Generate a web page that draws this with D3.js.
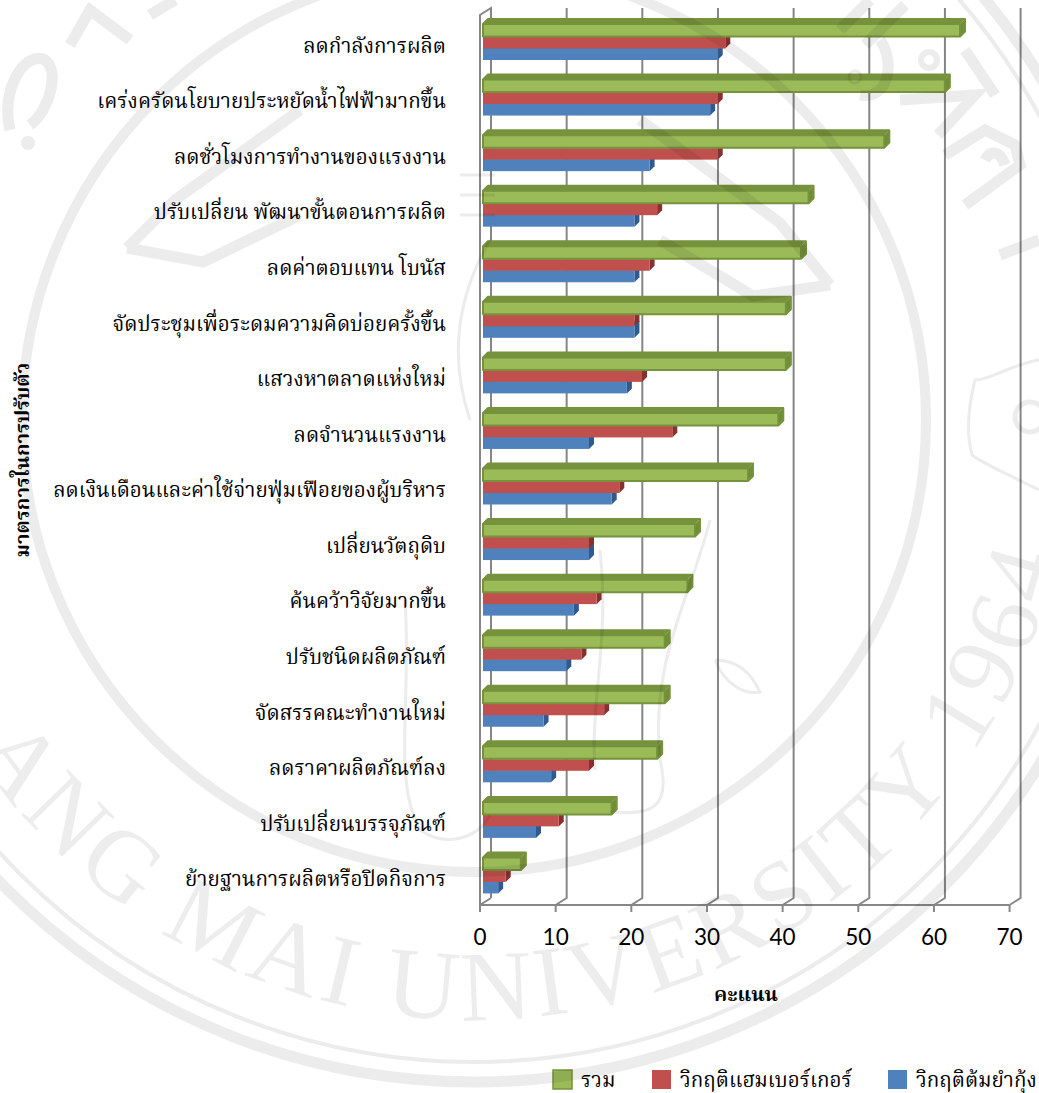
<!DOCTYPE html>
<html><head><meta charset="utf-8">
<script src="https://cdn.jsdelivr.net/npm/d3@7"></script>
<style>html,body{margin:0;padding:0;background:#fff}svg{display:block}</style></head>
<body><div id="c"></div>
<script>
const categories=["ลดกำลังการผลิต","เคร่งครัดนโยบายประหยัดน้ำไฟฟ้ามากขึ้น","ลดชั่วโมงการทำงานของแรงงาน","ปรับเปลี่ยน พัฒนาขั้นตอนการผลิต","ลดค่าตอบแทน โบนัส","จัดประชุมเพื่อระดมความคิดบ่อยครั้งขึ้น","แสวงหาตลาดแห่งใหม่","ลดจำนวนแรงงาน","ลดเงินเดือนและค่าใช้จ่ายฟุ่มเฟือยของผู้บริหาร","เปลี่ยนวัตถุดิบ","ค้นคว้าวิจัยมากขึ้น","ปรับชนิดผลิตภัณฑ์","จัดสรรคณะทำงานใหม่","ลดราคาผลิตภัณฑ์ลง","ปรับเปลี่ยนบรรจุภัณฑ์","ย้ายฐานการผลิตหรือปิดกิจการ"];
const total=[63,61,53,43,42,40,40,39,35,28,27,24,24,23,17,5];
const hamburger=[32,31,31,23,22,20,21,25,18,14,15,13,16,14,10,3];
const tomyum=[31,30,22,20,20,20,19,14,17,14,12,11,8,9,7,2];
const seriesNames=["รวม","วิกฤติแฮมเบอร์เกอร์","วิกฤติต้มยำกุ้ง"];
const ticks=[0,10,20,30,40,50,60,70];
const xTitle="คะแนน", yTitle="มาตรการในการปรับตัว";
const watermarkText="ANG MAI UNIVERSITY 1964";

const W=1039,H=1093;
const svg=d3.select("#c").append("svg").attr("width",W).attr("height",H);
const thai="'Liberation Serif','Noto Serif Thai','Noto Sans CJK SC',serif";
const x=d3.scaleLinear().domain([0,70]).range([480,1009.6]);
const barX=d3.scaleLinear().domain([0,70]).range([483,1013]);
const y=d3.scaleBand().domain(categories).range([8,897]).paddingInner(0);
const DX=11,DY=7,floorY=905,topY=8;
const grey="#868686";

// walls
const g=svg.append("g");
g.selectAll("path.grid").data(ticks.slice(1)).join("path").attr("class","grid")
 .attr("d",t=>`M${x(t)},${floorY}L${x(t)+DX},${floorY-DY}V${topY}`)
 .attr("fill","none").attr("stroke",grey).attr("stroke-width",2);
g.append("path").attr("d",`M${x(0)+DX},${floorY-DY}V${topY}L${x(0)},${topY+DY}V${floorY}L${x(0)+DX},${floorY-DY}`)
 .attr("fill","none").attr("stroke",grey).attr("stroke-width",2);
g.append("path").attr("d",`M${x(0)},${floorY}H${x(70)}`).attr("stroke",grey).attr("stroke-width",2);
g.selectAll("line.t").data(ticks).join("line").attr("class","t")
 .attr("x1",d=>x(d)).attr("x2",d=>x(d)).attr("y1",floorY).attr("y2",floorY+7)
 .attr("stroke",grey).attr("stroke-width",2);
g.selectAll("text.t").data(ticks).join("text").attr("class","t")
 .attr("x",d=>x(d)).attr("y",945).attr("text-anchor","middle")
 .attr("font-family","Lato,Carlito,sans-serif").attr("font-size",22.5).attr("fill","#000").text(d=>d);

// bars, drawn from bottom to top of each group
const barRows=[
 {vals:tomyum,off:40,h:12,front:"#4f81bd",side:"#2f5a8f",topc:"#41719f",line:null},
 {vals:hamburger,off:29,h:11.5,front:"#c0504d",side:"#87302e",topc:"#a04340",line:null},
 {vals:total,off:16,h:12.5,front:"#9bbb59",side:"#6f8f35",topc:"#76923c",line:"#76923c"}
];
const D=5;
categories.forEach((c,i)=>{
 const y0=y(c);
 const row=svg.append("g");
 barRows.forEach(r=>{
  const xe=barX(r.vals[i]),x0=barX(0),yy=y0+r.off,h=r.h;
  row.append("path").attr("d",`M${x0},${yy}L${x0+D},${yy-D}H${xe+D}L${xe},${yy}Z`).attr("fill",r.topc);
  row.append("path").attr("d",`M${xe},${yy}L${xe+D},${yy-D}V${yy+h-D}L${xe},${yy+h}Z`).attr("fill",r.side);
  row.append("rect").attr("x",x0).attr("y",yy).attr("width",xe-x0).attr("height",h).attr("fill",r.front);
  if(r.line) row.append("path").attr("d",`M${x0},${yy+h}V${yy}L${x0+D},${yy-D}H${xe+D}V${yy+h-D}L${xe},${yy+h}Z M${x0},${yy}H${xe}V${yy+h}`)
     .attr("fill","none").attr("stroke",r.line).attr("stroke-width",2).attr("stroke-linejoin","round");
 });
});

// category labels
svg.selectAll("text.cat").data(categories).join("text").attr("class","cat")
 .attr("x",446).attr("y",d=>y(d)+y.bandwidth()/2+17)
 .attr("text-anchor","end").attr("font-family",thai).attr("font-size",20.6).attr("fill","#000").text(d=>d);
// axis titles
svg.append("text").attr("x",746).attr("y",1001).attr("text-anchor","middle").attr("font-family",thai)
 .attr("font-size",20).attr("font-weight","bold").text(xTitle);
svg.append("text").attr("transform","translate(29,460) rotate(-90)").attr("text-anchor","middle").attr("font-family",thai)
 .attr("font-size",20).attr("font-weight","bold").text(yTitle);
// legend
const legendX=[553,652,888],legendText=[581,680,916],legendC=["#9bbb59","#c0504d","#4f81bd"];
seriesNames.forEach((n,i)=>{
 svg.append("rect").attr("x",legendX[i]).attr("y",1070).attr("width",19).attr("height",19).attr("fill",legendC[i])
  .attr("stroke",i==0?"#76923c":"none").attr("stroke-width",1.5);
 svg.append("text").attr("x",legendText[i]).attr("y",1087).attr("font-family",thai).attr("font-size",20.6).text(n);
});

// watermark seal
const wm=svg.append("g").attr("opacity",0.07).attr("fill","none").attr("stroke","#000");
const cx=474,cy=420;
wm.append("circle").attr("cx",cx).attr("cy",cy).attr("r",452).attr("stroke-width",10);
wm.append("circle").attr("cx",cx).attr("cy",cy).attr("r",642).attr("stroke-width",4);
wm.append("circle").attr("cx",cx).attr("cy",cy).attr("r",662).attr("stroke-width",11);
const sealStrokes=[
 "M127,248L203,262L300,215M127,248L175,200L300,110M830,285L753,296L660,240M830,285L780,223L640,120",
 "M840,30L870,0M865,45L905,5M860,95C890,100 895,60 880,40M938,135L975,95L900,100",
 "M945,155L985,130L1015,145L1020,165L965,205M985,160C990,150 1000,150 1005,165",
 "M965,50L995,95M1000,255L1039,240",
 "M10,130C0,90 25,50 45,60C60,70 50,110 30,125M70,45L90,10L130,40M150,15L175,0",
 "M405,600C412,700 392,780 420,830C450,850 480,835 490,815M490,240C455,300 450,360 470,420",
 "M710,520C690,600 650,660 660,760C672,810 650,815 610,812M600,550C610,640 590,700 595,770",
 "M460,175H495M460,195H495M460,215H495M715,660C725,685 745,695 760,692C750,670 735,660 715,660",
 "M1039,360C1010,365 990,380 975,380C970,400 965,430 972,455C985,465 1010,475 1039,490"
];
wm.selectAll("path.seal").data(sealStrokes).join("path").attr("class","seal").attr("d",d=>d)
 .attr("stroke-width",(d,i)=>i<5?11:3);
wm.append("circle").attr("cx",855).attr("cy",77).attr("r",6).attr("stroke-width",3);
wm.append("circle").attr("cx",929).attr("cy",60).attr("r",8).attr("stroke-width",6);
wm.append("circle").attr("cx",1030).attr("cy",417).attr("r",15).attr("stroke-width",5);
wm.append("circle").attr("cx",28).attr("cy",143).attr("r",7).attr("fill","#000").attr("stroke","none");

const defs=svg.append("defs");
const R=600;
defs.append("path").attr("id","arcB").attr("d",`M${cx-R},${cy}A${R},${R} 0 0 0 ${cx+R},${cy}`);
svg.append("text").attr("font-family","'Liberation Serif',serif").attr("font-size",100).attr("fill","#000").attr("fill-opacity",0.07)
 .append("textPath").attr("href","#arcB").attr("startOffset",350).attr("textLength",1395).attr("lengthAdjust","spacing").text(watermarkText);
</script></body></html>
